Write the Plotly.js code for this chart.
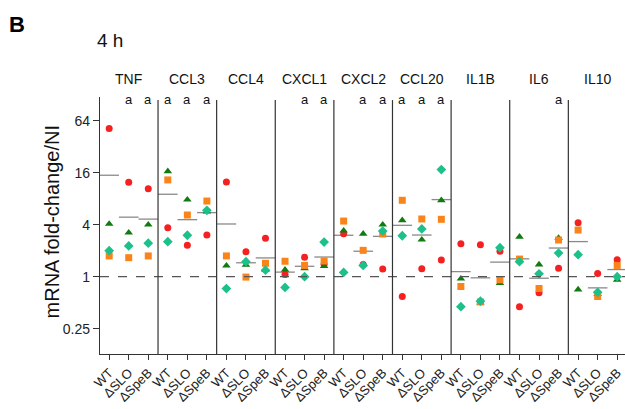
<!DOCTYPE html>
<html>
<head>
<meta charset="utf-8">
<script src="https://cdn.plot.ly/plotly-3.0.1.min.js"></script>
<style>html,body{margin:0;padding:0;background:#fff;}#chart{width:625px;height:409px;}</style>
</head>
<body>
<div id="chart"></div>
<script>
// ---- data ----
const categories = ['TNF','CCL3','CCL4','CXCL1','CXCL2','CCL20','IL1B','IL6','IL10'];
const strains = ['WT','ΔSLO','ΔSpeB'];
// one value per (category, strain), category-major order
const redCircle   = [52,12.4,10.4, 3.69,2.31,3.04, 12.5,1.95,2.78, 1.06,1.68,1.39, 3.14,1.38,1.23, 0.59,1.24,1.56, 2.41,2.35,1.97, 0.45,0.65,1.25, 4.22,1.09,1.57];
const orangeSquare= [1.74,1.66,1.74, 13.2,5.18,7.52, 1.74,0.99,1.43, 1.51,1.35,1.52, 4.41,2.02,3.12, 7.67,4.66,4.62, 0.77,0.51,0.92, 1.6,0.73,2.66, 3.47,0.59,1.35];
const greenTriangle=[4.08,3.23,4.0, 16.6,7.79,5.66, 1.34,1.37,1.2, 1.2,1.25,1.33, 3.41,3.14,4.0, 4.5,2.68,7.67, 0.95,0.5,0.84, 2.9,1.38,2.8, 0.71,0.63,0.92];
const tealDiamond = [2.0,2.27,2.44, 2.54,3.02,5.87, 0.73,1.49,1.19, 0.75,1.0,2.52, 1.12,1.35,3.38, 2.98,3.57,17.4, 0.45,0.52,2.17, 1.49,1.08,1.88, 1.8,0.66,1.0];
const sigLetters  = ['','a','a', 'a','a','a', '','','', '','a','a', '','a','a', 'a','a','a', '','','', '','','a', '','',''];
const yTicks = [0.25,1,4,16,64];
const yTickText = ['0.25','1','4','16','64'];

// ---- build ----
const FONT = 'Liberation Sans, Arial, Helvetica, sans-serif';
const n = categories.length * strains.length;
const xs = [], tickText = [];
for (let i = 0; i < n; i++) { xs.push(i + 0.5); tickText.push(strains[i % strains.length]); }
const means = xs.map((_, i) => (redCircle[i] + orangeSquare[i] + greenTriangle[i] + tealDiamond[i]) / 4);

function pts(y, symbol, color, size) {
  return {type:'scatter', mode:'markers', x: xs, y: y, hoverinfo:'y',
    marker:{symbol:symbol, color:color, size:size, line:{width:0}}};
}
const traces = [
  {type:'scatter', mode:'markers', x: xs, y: means, hoverinfo:'y',
   marker:{symbol:'line-ew', size:14, color:'#888', line:{color:'#8a8a8a', width:1.3}}},
  pts(redCircle, 'circle', '#f52020', 7),
  pts(greenTriangle, 'triangle-up', '#117a11', 7.5),
  pts(orangeSquare, 'square', '#fa8419', 7),
  pts(tealDiamond, 'diamond', '#1cc08a', 7.5)
];

const shapes = [{type:'line', xref:'paper', x0:0, x1:1, yref:'y', y0:1, y1:1,
  line:{color:'#555', width:1.2, dash:'dash'}}];
for (let k = 1; k < categories.length; k++) {
  shapes.push({type:'line', xref:'x', x0:k*3, x1:k*3, yref:'paper', y0:0, y1:0.988,
    line:{color:'#333', width:1.2}});
}
const annotations = [];
categories.forEach((c, k) => annotations.push({text:c, xref:'x', x:k*3+1.5, yref:'paper', y:1.07,
  showarrow:false, font:{family:FONT, size:14, color:'#111'}, xanchor:'center', yanchor:'middle'}));
sigLetters.forEach((s, i) => { if (s) annotations.push({text:s, xref:'x', x:xs[i], yref:'paper', y:0.99,
  showarrow:false, font:{family:FONT, size:13, color:'#111'}, xanchor:'center', yanchor:'middle'}); });
annotations.push({text:'<b>B</b>', xref:'paper', x:-0.158, yref:'paper', y:1.284, showarrow:false,
  font:{family:FONT, size:22, color:'#000'}, xanchor:'center', yanchor:'middle'});
annotations.push({text:'mRNA fold-change/NI', xref:'paper', x:-0.0914, yref:'paper', y:0.512, showarrow:false,
  textangle:-90, font:{family:FONT, size:20, color:'#111'}, xanchor:'center', yanchor:'middle'});

const layout = {
  width:625, height:409,
  margin:{l:100, r:0, t:97, b:55},
  paper_bgcolor:'#fff', plot_bgcolor:'#fff',
  showlegend:false,
  font:{family:FONT, color:'#222'},
  title:{text:'4 h', font:{family:FONT, size:19, color:'#111'}, xref:'container', x:0.155, xanchor:'left',
         yref:'container', y:0.902, yanchor:'middle'},
  xaxis:{range:[0.03, 26.9], showgrid:false, zeroline:false, showline:true, linecolor:'#333', linewidth:1.2,
         ticks:'outside', ticklen:5, tickcolor:'#333', tickwidth:1, tickvals:xs, ticktext:tickText,
         tickangle:-45, tickfont:{family:FONT, size:13, color:'#222'}},
  yaxis:{type:'log', range:[-0.895, 2.0807], showgrid:false, zeroline:false, showline:true, linecolor:'#333',
         linewidth:1.2, ticks:'outside', ticklen:6, tickcolor:'#333', tickvals:yTicks, ticktext:yTickText,
         tickfont:{family:FONT, size:14, color:'#222'}},
  shapes:shapes, annotations:annotations
};
Plotly.newPlot('chart', traces, layout, {displayModeBar:false, staticPlot:true});
</script>
</body>
</html>
